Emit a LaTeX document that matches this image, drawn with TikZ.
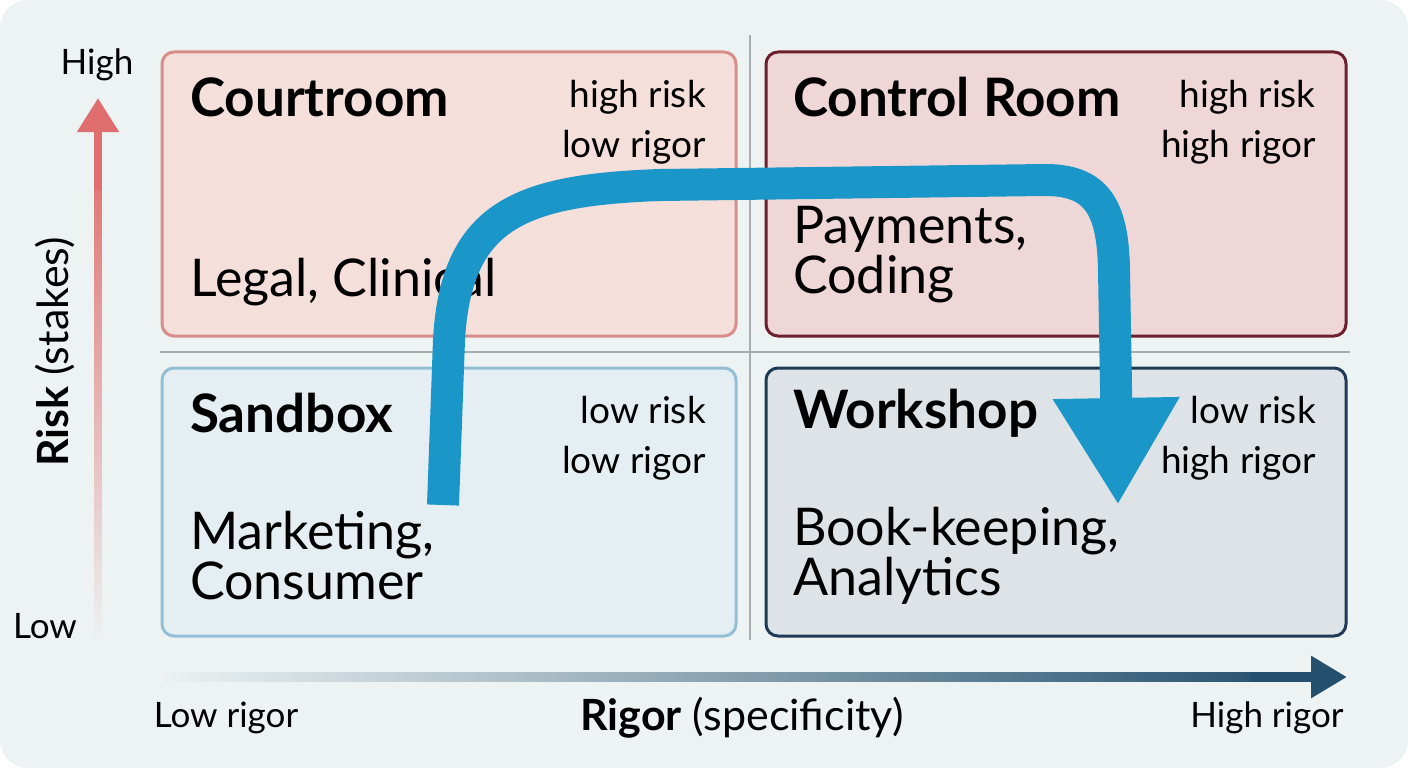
\documentclass[tikz,border=0pt]{standalone}
\usepackage{fontspec}
\setmainfont{Lato}
\usetikzlibrary{arrows.meta,fadings,positioning}

\definecolor{cardbg}{HTML}{EDF3F3}
\definecolor{divgray}{HTML}{A8ADB1}
\definecolor{courtfill}{HTML}{F5DFDA}
\definecolor{courtline}{HTML}{D88D89}
\definecolor{controlfill}{HTML}{F0D7D7}
\definecolor{controlline}{HTML}{6C1F2C}
\definecolor{sandfill}{HTML}{E5EEF2}
\definecolor{sandline}{HTML}{93BFD6}
\definecolor{shopfill}{HTML}{DEE3E8}
\definecolor{shopline}{HTML}{1F3A56}
\definecolor{flowblue}{HTML}{1A96C9}
\definecolor{riskred}{HTML}{E06E6E}
\definecolor{rigornavy}{HTML}{24506E}

\begin{document}
\begin{tikzpicture}[x=1pt,y=-1pt,line join=round]
    \tikzstyle{quad}=[rounded corners=12pt,line width=3pt,inner sep=0pt]
    \tikzstyle{title}=[anchor=west,inner sep=0pt,font=\fontsize{53}{53}\selectfont\bfseries]
    \tikzstyle{body}=[anchor=west,inner sep=0pt,align=left,font=\fontsize{52}{50}\selectfont]
    \tikzstyle{tag}=[anchor=east,inner sep=0pt,align=right,font=\fontsize{37}{50}\selectfont]
    \tikzstyle{axislabel}=[inner sep=0pt,font=\fontsize{35}{40}\selectfont]
    \tikzstyle{axistitle}=[inner sep=0pt,font=\fontsize{43}{46}\selectfont]
    \tikzstyle{divider}=[draw=divgray,line width=2.5pt]
    \tikzstyle{flow}=[draw=flowblue,line width=32pt,-{Triangle[length=107pt,width=119pt]}]

    \useasboundingbox (0,0) rectangle (1408,768);
    \fill[white] (0,0) rectangle (1408,768);
    \fill[cardbg,rounded corners=28pt] (0,0) rectangle (1408,768);

    % dividers
    \draw[divider] (750,35) -- (750,640);
    \draw[divider] (160,352) -- (1350,352);

    % quadrants
    \node[quad,fill=courtfill,draw=courtline,minimum width=574,minimum height=284]   (court)   at (449,194) {};
    \node[quad,fill=controlfill,draw=controlline,minimum width=580,minimum height=284] (control) at (1056,194) {};
    \node[quad,fill=sandfill,draw=sandline,minimum width=574,minimum height=268]     (sand)    at (449,502) {};
    \node[quad,fill=shopfill,draw=shopline,minimum width=580,minimum height=268]     (shop)    at (1056,502) {};

    \node[title] (courttitle)   at (190,97)  {Courtroom};
    \node[tag]   (courttag)     at (706,122) {high risk\\low rigor};
    \node[body]  (courtbody)    at (190,282) {Legal, Clinical};

    \node[title] (controltitle) at (793,97)  {Control Room};
    \node[tag]   (controltag)   at (1316,122) {high risk\\high rigor};
    \node[body]  (controlbody)  at (793,255) {Payments,\\Coding};

    \node[title] (sandtitle)    at (190,413) {Sandbox};
    \node[tag]   (sandtag)      at (706,438) {low risk\\low rigor};
    \node[body]  (sandbody)     at (190,556) {Marketing,\\Consumer};

    \node[title] (shoptitle)    at (793,413) {Workshop};
    \node[tag]   (shoptag)      at (1316,438) {low risk\\high rigor};
    \node[body]  (shopbody)     at (793,556) {Book-keeping,\\Analytics};

    % blue path
    \coordinate (flowstart) at (443,505);
    \coordinate (flowend)   at (1118,505);
    \draw[flow] (flowstart) -- (449,340)
        .. controls (456,215) and (520,190) .. (660,185)
        -- (1045,180)
        .. controls (1095,180) and (1113,205) .. (1114,270)
        -- (flowend);

    % axes
    \coordinate (risklow)   at (98,640);
    \coordinate (riskmid)   at (98,150);
    \coordinate (riskhigh)  at (98,98);
    \coordinate (rigorlow)  at (165,677);
    \coordinate (rigormid)  at (1290,677);
    \coordinate (rigorhigh) at (1347,677);
    \draw[draw=riskred,line width=8pt,path fading=south] (risklow) -- (riskmid);
    \draw[draw=riskred,line width=8pt,-{Triangle[length=34pt,width=40pt]}] ([yshift=-40pt]riskmid) -- (riskhigh);
    \draw[draw=rigornavy,line width=10pt,path fading=west] (rigorlow) -- (rigormid);
    \draw[draw=rigornavy,line width=10pt,-{Triangle[length=36pt,width=40pt]}] ([xshift=-40pt]rigormid) -- (rigorhigh);

    \node[axislabel] (highlabel) at (97,65)   {High};
    \node[axislabel] (lowlabel)  at (45,626)  {Low};
    \node[axistitle,rotate=90] (risklabel) at (55,352) {\textbf{Risk} (stakes)};
    \node[axislabel] (lowrigor)  at (226,718) {Low rigor};
    \node[axistitle] (rigorlabel) at (742,718) {\textbf{Rigor} (specificity)};
    \node[axislabel] (highrigor) at (1267,718) {High rigor};
\end{tikzpicture}
\end{document}
